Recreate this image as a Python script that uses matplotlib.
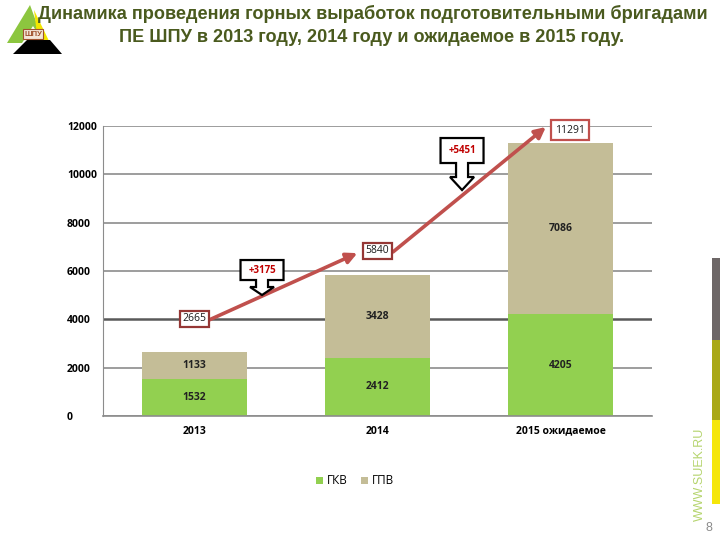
import numpy as np
import matplotlib.pyplot as plt
from matplotlib.patches import Polygon, Rectangle
from matplotlib.transforms import ScaledTranslation

plt.rcParams['font.family'] = ['Open Sans', 'DejaVu Sans']

# ===== данные =====
years = ['2013', '2014', '2015 ожидаемое']
gkv = [1532, 2412, 4205]
gpv = [1133, 3428, 7086]
totals = [a + b for a, b in zip(gkv, gpv)]
yticks = [0, 2000, 4000, 6000, 8000, 10000, 12000]

C_GKV = '#92d050'
C_GPV = '#c4bd97'
C_RED = '#c0504d'
C_TITLE = '#4a5a1e'

fig = plt.figure(figsize=(7.2, 5.4), dpi=100)
fig.patch.set_facecolor('white')
ax = fig.add_axes([103 / 720, 1 - 416 / 540, 549 / 720, 290 / 540])

x = np.arange(len(years))
ax.bar(x, gkv, width=0.57, color=C_GKV, zorder=2, label='ГКВ')
ax.bar(x, gpv, width=0.57, bottom=gkv, color=C_GPV, zorder=2, label='ГПВ')

for i in range(len(years)):
    ax.text(x[i], gkv[i] / 2, str(gkv[i]), ha='center', va='center',
            fontsize=7.5, fontweight='bold', color='#222222', zorder=3)
    ax.text(x[i], gkv[i] + gpv[i] / 2, str(gpv[i]), ha='center', va='center',
            fontsize=7.5, fontweight='bold', color='#222222', zorder=3)

ax.set_xlim(-0.5, 2.5)
ax.set_ylim(0, 12000)
ax.set_yticks(yticks)
ax.set_yticklabels([str(v) for v in yticks], fontsize=7.5, fontweight='bold', ha='left')
ax.tick_params(axis='y', length=0, pad=26)
ax.set_xticks(x)
ax.set_xticklabels(years, fontsize=7.5, fontweight='bold')
ax.tick_params(axis='x', length=0, pad=7)
ax.yaxis.grid(True, color='#8c8c8c', lw=1.2, zorder=0)
ax.set_axisbelow(True)
ax.get_ygridlines()[2].set_color('#595959')
ax.get_ygridlines()[2].set_linewidth(1.8)
for s in ['top', 'right']:
    ax.spines[s].set_visible(False)
ax.spines['left'].set_color('#8c8c8c')
ax.spines['bottom'].set_color('#8c8c8c')
ax.spines['bottom'].set_linewidth(1.2)

# подписи итогов
box_y = [totals[0] + 1350, totals[1] + 990, totals[2] + 540]
box_x = [0.0, 1.0, 2.05]
box_ec = ['#953735', '#953735', '#c0504d']
box_pad = [0.25, 0.25, 0.4]
for i in range(3):
    ax.text(box_x[i], box_y[i], str(totals[i]), ha='center', va='center', fontsize=7.5,
            color='#1a1a1a', zorder=5,
            bbox=dict(boxstyle='square,pad=%.2f' % box_pad[i], fc='white', ec=box_ec[i], lw=1.6))

# стрелки роста
arrows = [((0.08, box_y[0] - 40), (0.89, box_y[1] - 90)),
          ((1.085, box_y[1] - 40), (1.92, 11960))]
for (p0, p1) in arrows:
    ax.annotate('', xy=p1, xytext=p0, zorder=4,
                arrowprops=dict(arrowstyle='-|>', color=C_RED, lw=2.6,
                                mutation_scale=16, shrinkA=0, shrinkB=0))

# выноски с приростом
def callout(xc, ytip, text, box_lo, box_hi, shaft):
    v = np.array([(0, 0), (12, shaft), (6, shaft), (6, box_lo), (21.5, box_lo),
                  (21.5, box_hi), (-21.5, box_hi), (-21.5, box_lo), (-6, box_lo),
                  (-6, shaft), (-12, shaft)]) / 100.0
    tr = fig.dpi_scale_trans + ScaledTranslation(xc, ytip, ax.transData)
    ax.add_patch(Polygon(v, closed=True, fc='white', ec='black', lw=1.6,
                         transform=tr, zorder=6))
    ax.text(0, (box_lo + box_hi) / 200.0, text, transform=tr, ha='center', va='center',
            fontsize=7, fontweight='bold', color='#c00000', zorder=7)

callout(0.369, 5006, '+%d' % (totals[1] - totals[0]), 15, 35, 8)
callout(1.462, 9351, '+%d' % (totals[2] - totals[1]), 27, 52, 13)

fig.legend(loc='center', bbox_to_anchor=(355 / 720, 1 - 481 / 540), ncol=2, frameon=False,
           fontsize=8.5, handlelength=0.6, handleheight=0.6, handletextpad=0.3,
           columnspacing=1.2)

# логотип
def px(pts):
    return [(a / 720, 1 - b / 540) for a, b in pts]

logo = [([(7, 43), (30, 5), (44, 43)], '#8cc63f'),
        ([(34, 10), (50, 43), (38, 43)], '#f2e600'),
        ([(22, 43), (44, 43), (33, 26)], 'white'),
        ([(13, 54), (62, 54), (50, 40), (27, 40)], 'black')]
for pts, c in logo:
    fig.patches.append(Polygon(px(pts), closed=True, fc=c, ec='none',
                               transform=fig.transFigure, zorder=0))
fig.text(33 / 720, 1 - 34 / 540, 'ШПУ', ha='center', va='center', fontsize=5.5,
         fontweight='bold', color='#a0522d', family=['Liberation Sans', 'DejaVu Sans'],
         bbox=dict(boxstyle='square,pad=0.15', fc='#f3e6d8', ec='#a0522d', lw=0.8))

# заголовок
fig.text(373 / 720, 1 - 14 / 540,
         'Динамика проведения горных выработок подготовительными бригадами',
         ha='center', va='center', fontsize=13.1, fontweight='bold', color=C_TITLE,
         family=['Liberation Sans', 'DejaVu Sans'])
fig.text(372 / 720, 1 - 38 / 540, 'ПЕ ШПУ в 2013 году, 2014 году и ожидаемое в 2015 году.',
         ha='center', va='center', fontsize=13.1, fontweight='bold', color=C_TITLE,
         family=['Liberation Sans', 'DejaVu Sans'])

# полоса справа
for y0, y1, c in [(258, 340, '#6d6767'), (340, 420, '#a9a817'), (420, 504, '#f5e609')]:
    fig.patches.append(Rectangle((712 / 720, 1 - y1 / 540), 8 / 720, (y1 - y0) / 540,
                                 fc=c, ec='none', transform=fig.transFigure))
fig.text(700 / 720, 1 - 474 / 540, 'WWW.SUEK.RU', rotation=90, ha='center', va='center',
         fontsize=9, color='#b5d46e', family=['Liberation Sans', 'DejaVu Sans'])
fig.text(709 / 720, 1 - 528 / 540, '8', ha='center', va='center', fontsize=9,
         color='#8c8c8c', family=['Liberation Sans', 'DejaVu Sans'])

fig.savefig('out.png', dpi=100)
